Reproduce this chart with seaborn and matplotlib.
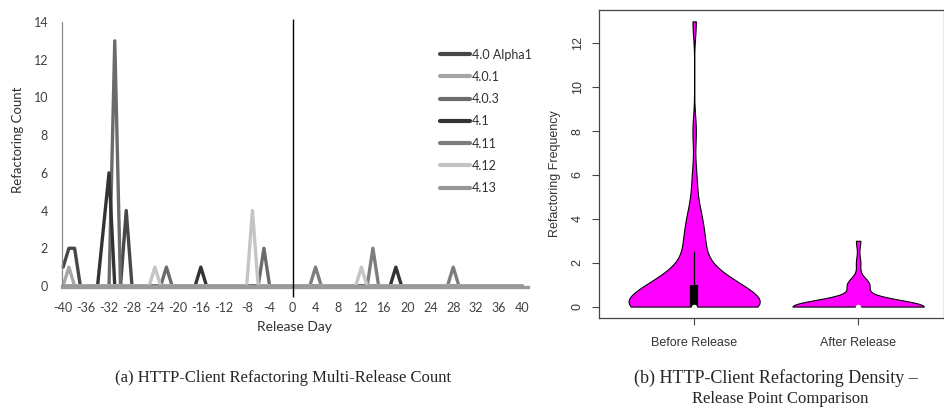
import numpy as np
import pandas as pd
import matplotlib
matplotlib.use("Agg")
import matplotlib.pyplot as plt
import seaborn as sns

# ---------------- data: (a) multi-release count ----------------
release_days = list(range(-40, 41))
release_names = ["4.0 Alpha1", "4.0.1", "4.0.3", "4.1", "4.11", "4.12", "4.13"]
release_colors = ["#474747", "#a6a6a6", "#6b6b6b", "#333333", "#7d7d7d", "#c4c4c4", "#979797"]
# non-zero counts per release (all other days are 0)
counts_4_0_alpha1 = {-40: 1, -39: 2, -38: 2, -29: 4}
counts_4_0_1 = {-39: 1}
counts_4_0_3 = {-31: 13, -22: 1, -5: 2}
counts_4_1 = {-33: 3, -32: 6, -16: 1, 18: 1}
counts_4_11 = {4: 1, 14: 2, 28: 1}
counts_4_12 = {-24: 1, -7: 4, 12: 1}
counts_4_13 = {}
x_ticks_a = list(range(-40, 41, 4))
y_ticks_a = list(range(0, 15, 2))

# ---------------- data: (b) density comparison ----------------
periods = ["Before Release", "After Release"]
before_values = [0, 1, 2, 3, 4, 5, 6, 8, 13]
before_counts = [32, 16, 4, 4, 3, 1, 1, 1, 1]
after_values = [0, 1, 2, 3]
after_counts = [30, 5, 1, 1]
y_ticks_b = [0, 2, 4, 6, 8, 10, 12]

# ---------------- build tables ----------------
series = [counts_4_0_alpha1, counts_4_0_1, counts_4_0_3, counts_4_1,
          counts_4_11, counts_4_12, counts_4_13]
rows = []
for name, cnt in zip(release_names, series):
    for d in release_days:
        rows.append({"day": d, "count": cnt.get(d, 0), "release": name})
df_a = pd.DataFrame(rows)

before = np.repeat(before_values, before_counts)
after = np.repeat(after_values, after_counts)
df_before = pd.DataFrame({"period": periods[0], "freq": before})
df_after = pd.DataFrame({"period": periods[1], "freq": after})

# ---------------- figure ----------------
sns.set_style("ticks")
plt.rcParams["font.family"] = ["Lato", "DejaVu Sans"]
plt.rcParams["axes.unicode_minus"] = False

fig = plt.figure(figsize=(9.45, 4.09), dpi=100)

# ---- (a) ----
ax1 = fig.add_axes([0.0656, 0.2971, 0.4929, 0.6491])
palette = dict(zip(release_names, release_colors))
sns.lineplot(data=df_a, x="day", y="count", hue="release", hue_order=release_names,
             palette=palette, linewidth=2.4, ax=ax1, legend=True, clip_on=False)
ax1.set_xlim(-40.2, 41)
ax1.set_ylim(-0.08, 14)
ax1.set_xticks(x_ticks_a)
ax1.set_yticks(y_ticks_a)
ax1.tick_params(axis="both", length=0, labelsize=9, colors="#404040")
ax1.tick_params(axis="x", pad=10.5)
ax1.tick_params(axis="y", pad=10)
for s in ["top", "right"]:
    ax1.spines[s].set_visible(False)
ax1.spines["left"].set_color("#8c8c8c")
ax1.spines["left"].set_linewidth(0.9)
ax1.spines["bottom"].set_color("#9a9a9a")
ax1.spines["bottom"].set_linewidth(2.4)
ax1.vlines(0, -0.6, 14.15, color="black", linewidth=1.0, clip_on=False, zorder=5)
ax1.set_xlabel("Release Day", fontsize=10, color="#303030")
ax1.set_ylabel("Refactoring Count", fontsize=9.5, color="#303030")
ax1.xaxis.set_label_coords(0.5, -0.126)
ax1.yaxis.set_label_coords(-0.0816, 0.556)
handles, labels = ax1.get_legend_handles_labels()
for h in handles:
    h.set_linewidth(3)
ax1.legend(handles, labels, loc="upper left", bbox_to_anchor=(0.811, 0.90),
           frameon=False, fontsize=9, handlelength=2.4, handletextpad=0.2,
           labelspacing=0.82, borderpad=0, borderaxespad=0, labelcolor="#303030")

fig.text(0.300, 0.077, "(a) HTTP-Client Refactoring Multi-Release Count",
         ha="center", va="center", fontsize=12, family="Liberation Serif")

# ---- (b) ----
ax2 = fig.add_axes([0.6339, 0.2225, 0.3651, 0.7531])
common = dict(x="period", y="freq", order=periods, cut=0, inner=None,
              density_norm="width", width=0.8, color="#ff00ff", saturation=1,
              linecolor="black", linewidth=0.8, ax=ax2)
sns.violinplot(data=df_before, bw_adjust=0.71, **common)
sns.violinplot(data=df_after, bw_adjust=1.0, **common)
for i, vals in enumerate([before, after]):
    q1, med, q3 = np.percentile(vals, [25, 50, 75])
    iqr = q3 - q1
    hi = min(q3 + 1.5 * iqr, vals.max())
    lo = max(q1 - 1.5 * iqr, vals.min())
    ax2.plot([i, i], [lo, hi], color="black", linewidth=0.9, zorder=4)
    ax2.plot([i, i], [q1, q3], color="black", linewidth=6, solid_capstyle="butt", zorder=4)
    ax2.scatter([i], [med], s=16, color="white", linewidths=0, zorder=5)
ax2.set_xlim(-0.58, 1.524)
ax2.set_ylim(-0.52, 13.52)
ax2.set_yticks(y_ticks_b)
ax2.set_yticklabels([str(v) for v in y_ticks_b], rotation=90, va="center",
                    family="Liberation Sans")
ax2.set_xticks([0, 1])
ax2.set_xticklabels(periods, family="Liberation Sans")
ax2.tick_params(axis="both", direction="out", length=5, width=0.8, colors="#444444",
                labelsize=9, labelcolor="#333333")
ax2.tick_params(axis="x", pad=9)
ax2.tick_params(axis="y", pad=6)
for s in ax2.spines.values():
    s.set_visible(True)
    s.set_color("#444444")
    s.set_linewidth(0.9)
ax2.set_xlabel("")
ax2.set_ylabel("Refactoring Frequency", fontsize=9, family="Liberation Sans", color="#333333")
ax2.yaxis.set_label_coords(-0.11, 0.47)

fig.text(0.821, 0.076, "(b) HTTP-Client Refactoring Density \u2013",
         ha="center", va="center", fontsize=13, family="Liberation Serif")
fig.text(0.826, 0.024, "Release Point Comparison",
         ha="center", va="center", fontsize=12, family="Liberation Serif")

fig.savefig("out.png", dpi=100)
